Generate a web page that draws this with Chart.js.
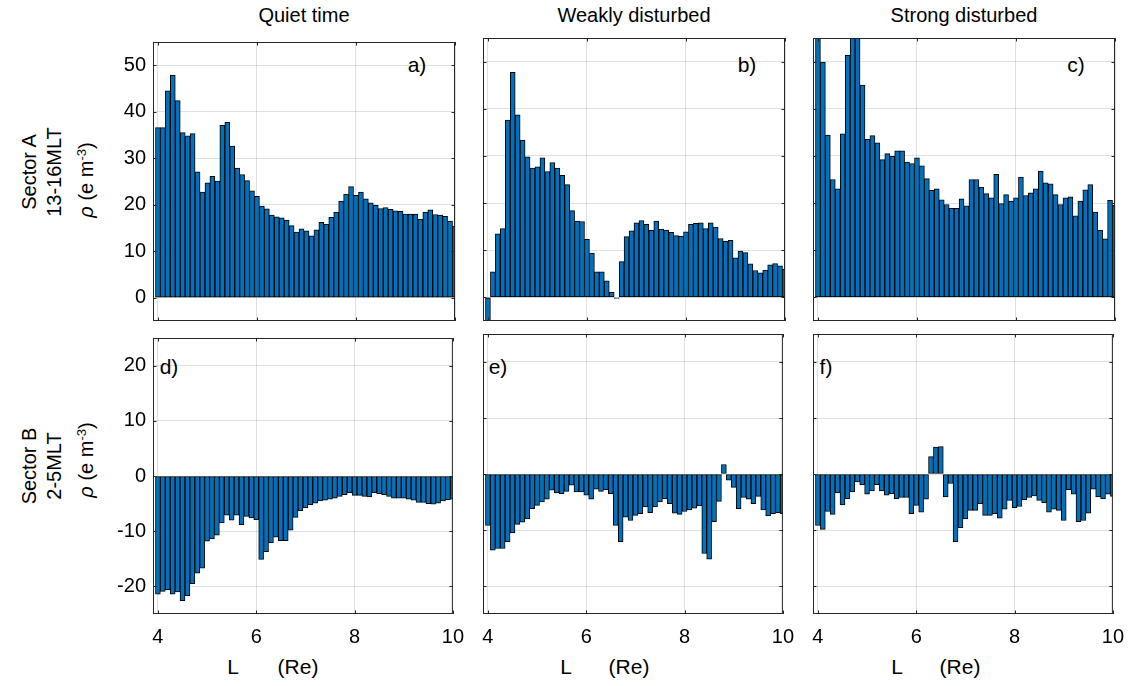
<!DOCTYPE html>
<html>
<head>
<meta charset="utf-8">
<script src="https://cdn.jsdelivr.net/npm/chart.js@4.4.0/dist/chart.umd.min.js"></script>
<style>
body { margin: 0; background: #fff; width: 1132px; height: 686px; position: relative; overflow: hidden;
       font-family: "Liberation Sans", Arial, Helvetica, sans-serif; color: #000; }
canvas { position: absolute; }
.t { position: absolute; white-space: pre; font-size: 20px; transform: translate(-50%, -50%); }
.r { transform: translate(-50%, -50%) rotate(-90deg); }
.xl { position: absolute; white-space: pre; font-size: 21px; transform: translate(-50%, -50%); }
.lt { position: absolute; font-size: 21px; transform: translate(-50%, -50%); }
sup { font-size: 13px; }
</style>
</head>
<body>

<div class="t" style="left:304px;top:15px">Quiet time</div>
<div class="t" style="left:634px;top:15px">Weakly disturbed</div>
<div class="t" style="left:964px;top:15px">Strong disturbed</div>

<div class="t r" style="left:29px;top:172px">Sector A</div>
<div class="t r" style="left:54px;top:172px">13-16MLT</div>
<div class="t r" style="left:86px;top:180px"><i>ρ</i> (e m<sup>-3</sup>)</div>
<div class="t r" style="left:29px;top:466px">Sector B</div>
<div class="t r" style="left:54px;top:466px">2-5MLT</div>
<div class="t r" style="left:86px;top:460px"><i>ρ</i> (e m<sup>-3</sup>)</div>

<div class="xl" style="left:233px;top:667px">L</div>
<div class="xl" style="left:298px;top:667px">(Re)</div>
<div class="xl" style="left:566px;top:667px">L</div>
<div class="xl" style="left:629px;top:667px">(Re)</div>
<div class="xl" style="left:897px;top:667px">L</div>
<div class="xl" style="left:960px;top:667px">(Re)</div>

<div class="lt" style="left:417px;top:65px">a)</div>
<div class="lt" style="left:747px;top:65px">b)</div>
<div class="lt" style="left:1076px;top:65px">c)</div>
<div class="lt" style="left:169px;top:367px">d)</div>
<div class="lt" style="left:498px;top:367px">e)</div>
<div class="lt" style="left:826px;top:367px">f)</div>

<canvas id="a"></canvas>
<canvas id="b"></canvas>
<canvas id="c"></canvas>
<canvas id="d"></canvas>
<canvas id="e"></canvas>
<canvas id="f"></canvas>

<script>
// L bins (Re)
var L = [4.0,4.1,4.2,4.3,4.4,4.5,4.6,4.7,4.8,4.9,
         5.0,5.1,5.2,5.3,5.4,5.5,5.6,5.7,5.8,5.9,
         6.0,6.1,6.2,6.3,6.4,6.5,6.6,6.7,6.8,6.9,
         7.0,7.1,7.2,7.3,7.4,7.5,7.6,7.7,7.8,7.9,
         8.0,8.1,8.2,8.3,8.4,8.5,8.6,8.7,8.8,8.9,
         9.0,9.1,9.2,9.3,9.4,9.5,9.6,9.7,9.8,9.9,
         10.0];

// Sector A, 13-16MLT
var quietA  = [36.6,36.6,44.5,47.9,42.4,35.5,34.8,35.3,27.1,22.7,
               24.7,26.1,25.1,37.1,37.7,32.6,27.9,26.5,25.2,23.0,
               21.8,19.7,19.1,17.8,17.4,17.2,16.7,15.5,14.1,14.8,
               14.4,13.3,14.6,16.2,15.8,17.3,18.4,20.8,22.3,23.9,
               22.0,22.7,21.3,20.4,19.9,19.2,19.4,19.0,18.7,18.6,
               18.0,18.0,18.0,16.9,18.4,18.9,17.9,17.8,17.5,16.5,
               15.4];
var weakA   = [-7,5.4,13.5,14.6,37.6,47.7,38.7,33.3,29.8,27.4,
               27.7,29.6,26.7,28.6,27.4,25.9,23.9,18.4,16.2,16.1,
               12.3,9.4,5.4,5.4,3.5,1.1,-0.2,7.6,12.9,14.1,
               15.8,16.3,15.5,14.2,16.2,14.5,14.3,13.8,13.1,13.0,
               13.9,15.5,15.7,15.8,14.6,15.8,14.9,12.5,11.9,12.1,
               8.4,9.8,9.5,7.1,5.7,5.2,5.8,6.9,7.2,6.7,
               6.0];
var strongA = [58,49.9,34.4,25.0,23.0,34.7,51.3,57,56,45.0,
               33.5,34.3,32.8,29.2,30.5,29.9,31.1,31.1,28.7,28.4,
               29.6,27.9,25.2,22.7,23.0,20.7,19.7,18.9,18.9,20.9,
               19.4,25.0,25.0,23.4,22.0,21.1,26.1,19.9,21.8,20.4,
               21.1,25.5,21.6,22.2,23.0,26.8,24.3,24.1,21.8,19.7,
               21.1,21.3,17.3,20.4,22.8,23.9,18.1,14.2,12.4,20.6,
               19.5];

// Sector B, 2-5MLT
var quietB  = [-21.4,-20.9,-20.6,-21.4,-21.0,-22.6,-21.7,-19.5,-17.6,-16.7,
               -11.8,-11.4,-10.7,-8.5,-7.1,-8.0,-7.1,-8.8,-7.3,-7.6,
               -7.9,-15.1,-13.7,-12.1,-11.1,-11.7,-11.7,-9.8,-7.5,-6.3,
               -5.8,-5.2,-4.9,-4.5,-4.4,-4.2,-4.0,-3.7,-3.4,-3.0,
               -3.5,-3.5,-3.7,-3.8,-3.0,-3.2,-3.4,-3.7,-4.0,-4.0,
               -4.0,-4.2,-4.4,-4.8,-4.8,-5.0,-5.1,-4.9,-4.5,-4.3,
               -4.2];
var weakB   = [-9.2,-13.6,-13.3,-13.3,-12.1,-10.5,-9.0,-8.6,-8.0,-6.2,
               -5.6,-5.0,-4.5,-2.9,-3.4,-3.5,-3.1,-2.0,-3.2,-3.2,
               -3.8,-4.5,-2.7,-3.1,-2.8,-3.5,-9.2,-12.1,-7.7,-8.3,
               -7.4,-7.1,-5.9,-6.9,-5.9,-5.0,-4.4,-5.3,-7.0,-7.2,
               -6.7,-6.4,-6.1,-5.7,-14.2,-15.2,-8.5,-4.9,1.7,-1.1,
               -2.4,-6.2,-4.2,-4.5,-5.3,-4.0,-6.4,-7.5,-7.1,-6.9,
               -7.1];
var strongB = [-9.2,-9.9,-6.7,-7.2,-3.4,-5.5,-4.4,-3.2,-1.4,-1.9,
               -3.6,-3.0,-1.9,-3.0,-3.8,-3.5,-4.4,-4.2,-4.2,-7.1,
               -5.6,-6.8,-4.5,3.1,4.8,4.9,-4.1,-1.7,-12.1,-9.6,
               -8.0,-6.5,-6.5,-5.3,-7.4,-7.4,-7.1,-7.9,-6.3,-4.7,
               -6.0,-5.8,-4.6,-4.2,-3.9,-4.7,-5.1,-6.8,-6.3,-6.5,
               -8.3,-2.8,-3.6,-8.5,-8.3,-7.0,-2.7,-4.1,-4.4,-3.6,
               -4.0];

var xTicks = [4, 6, 8, 10];
var yTicksA = [0, 10, 20, 30, 40, 50];
var yTicksB = [-20, -10, 0, 10, 20];

var FONT = "'Liberation Sans', Arial, Helvetica, sans-serif";
var AXIS = "#262626";

// box round the axes, with MATLAB style inward ticks
var frame = {
  id: "frame",
  afterDraw: function(chart) {
    var ctx = chart.ctx, a = chart.chartArea;
    var xs = chart.scales.x, ys = chart.scales.y;
    ctx.save();
    ctx.strokeStyle = AXIS;
    ctx.lineWidth = 1;
    ctx.beginPath();
    xs.ticks.forEach(function(t) {
      var p = Math.round(xs.getPixelForValue(t.value)) + 0.5;
      ctx.moveTo(p, a.bottom); ctx.lineTo(p, a.bottom - 3.5);
      ctx.moveTo(p, a.top); ctx.lineTo(p, a.top + 3.5);
    });
    ys.ticks.forEach(function(t) {
      var p = Math.round(ys.getPixelForValue(t.value)) + 0.5;
      ctx.moveTo(a.left, p); ctx.lineTo(a.left + 3.5, p);
      ctx.moveTo(a.right, p); ctx.lineTo(a.right - 3.5, p);
    });
    ctx.stroke();
    ctx.strokeRect(a.left + 0.5, a.top + 0.5, a.right - a.left - 1, a.bottom - a.top - 1);
    ctx.restore();
  }
};

var LEFT = 60, TOP = 15, RIGHT = 20, BOTTOM = 45;

function panel(id, x, y, w, h, vals, ymin, ymax, yticks, showY, showX) {
  var cv = document.getElementById(id);
  cv.width = w + LEFT + RIGHT;
  cv.height = h + TOP + BOTTOM;
  cv.style.left = (x - LEFT) + "px";
  cv.style.top = (y - TOP) + "px";

  new Chart(cv.getContext("2d"), {
    type: "bar",
    data: {
      datasets: [{
        data: L.map(function(l, i) { return { x: l, y: vals[i] }; }),
        backgroundColor: "#0072BD",
        borderColor: "#000000",
        borderWidth: 1,
        borderSkipped: false,
        barPercentage: 1,
        categoryPercentage: 1,
        clip: 0
      }]
    },
    options: {
      responsive: false,
      animation: false,
      events: [],
      layout: { padding: { left: 0, top: TOP, right: RIGHT, bottom: 0 } },
      plugins: { legend: { display: false }, tooltip: { enabled: false } },
      scales: {
        x: {
          type: "linear",
          offset: false,
          min: 3.9,
          max: 10,
          afterBuildTicks: function(s) { s.ticks = xTicks.map(function(v) { return { value: v }; }); },
          afterFit: function(s) { s.height = BOTTOM; },
          grid: { color: "rgba(0,0,0,0.12)", drawTicks: false, offset: false },
          border: { display: false },
          ticks: { display: showX, padding: 11, color: "#000", font: { family: FONT, size: 20 }, maxRotation: 0 }
        },
        y: {
          min: ymin,
          max: ymax,
          afterBuildTicks: function(s) { s.ticks = yticks.map(function(v) { return { value: v }; }); },
          afterFit: function(s) { s.width = LEFT; },
          grid: { color: "rgba(0,0,0,0.12)", drawTicks: false },
          border: { display: false },
          ticks: { display: showY, padding: 7, color: "#000", font: { family: FONT, size: 20 } }
        }
      }
    },
    plugins: [frame]
  });
}

var cols = [153, 483, 813];
var PW = 302;

panel("a", cols[0], 38, PW, 283, quietA,  -5, 55, yTicksA, true,  false);
panel("b", cols[1], 38, PW, 283, weakA,   -5, 55, yTicksA, false, false);
panel("c", cols[2], 38, PW, 283, strongA, -5, 55, yTicksA, false, false);
panel("d", cols[0], 334, PW, 280, quietB,  -25, 25, yTicksB, true,  true);
panel("e", cols[1], 334, PW, 280, weakB,   -25, 25, yTicksB, false, true);
panel("f", cols[2], 334, PW, 280, strongB, -25, 25, yTicksB, false, true);
</script>
</body>
</html>
